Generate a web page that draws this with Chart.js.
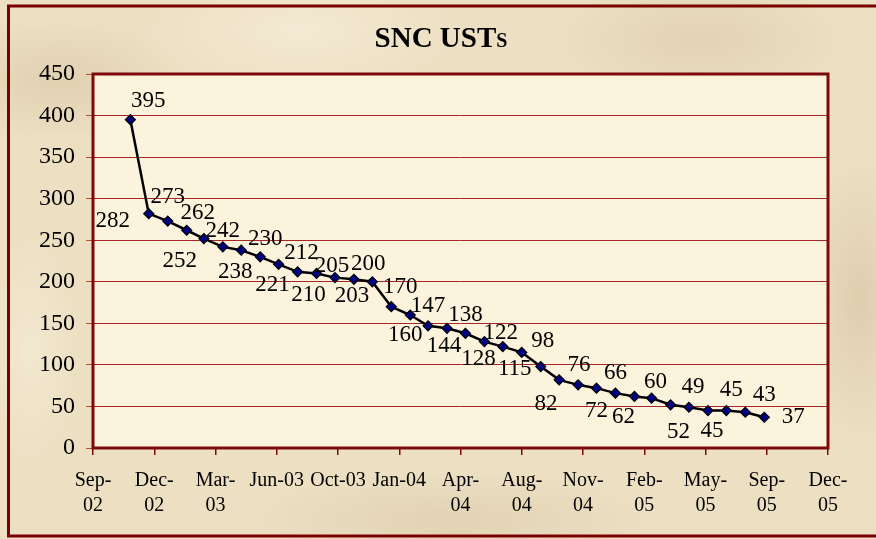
<!DOCTYPE html>
<html>
<head>
<meta charset="utf-8">
<script src="https://cdn.jsdelivr.net/npm/chart.js@4/dist/chart.umd.min.js"></script>
<style>
  html, body { margin: 0; padding: 0; }
  body {
    width: 876px; height: 539px; overflow: hidden;
    background-color: #ecdfc2;
    background-image:
      radial-gradient(ellipse 120px 60px at 60px 80px, rgba(210,190,155,0.45), transparent),
      radial-gradient(ellipse 160px 70px at 300px 30px, rgba(247,238,218,0.7), transparent),
      radial-gradient(ellipse 140px 60px at 700px 40px, rgba(212,194,160,0.45), transparent),
      radial-gradient(ellipse 200px 50px at 450px 520px, rgba(212,194,160,0.45), transparent),
      radial-gradient(ellipse 60px 140px at 860px 300px, rgba(205,185,150,0.45), transparent),
      radial-gradient(ellipse 50px 120px at 30px 350px, rgba(247,238,218,0.6), transparent);
  }
  #wrap { position: relative; width: 876px; height: 539px; }
</style>
</head>
<body>
<div id="wrap"><canvas id="ustChart" width="876" height="539"></canvas></div>
<script>
// Monthly counts of SNC USTs
const months = ['2002-11', '2002-12', '2003-01', '2003-02', '2003-03', '2003-04', '2003-05',
  '2003-06', '2003-07', '2003-08', '2003-09', '2003-10', '2003-11', '2003-12', '2004-01',
  '2004-02', '2004-03', '2004-04', '2004-05', '2004-06', '2004-07', '2004-08', '2004-09',
  '2004-10', '2004-11', '2004-12', '2005-01', '2005-02', '2005-03', '2005-04', '2005-05',
  '2005-06', '2005-07', '2005-08', '2005-09'];
const ustCounts = [395, 282, 273, 262, 252, 242, 238, 230, 221, 212, 210, 205, 203, 200, 170,
  160, 147, 144, 138, 128, 122, 115, 98, 82, 76, 72, 66, 62, 60, 52, 49, 45, 45, 43, 37];
// x axis ticks every 100 days starting 1 Sep 2002 (Excel style date axis)
const xTickLabels = [['Sep-', '02'], ['Dec-', '02'], ['Mar-', '03'], 'Jun-03', 'Oct-03', 'Jan-04',
  ['Apr-', '04'], ['Aug-', '04'], ['Nov-', '04'], ['Feb-', '05'], ['May-', '05'], ['Sep-', '05'], ['Dec-', '05']];

// where each value label sits relative to its point (px)
const labelOffsets = [[18, -19], [-36, 7], [0, -24], [11, -17], [-24, 22], [0, -16], [-6, 22],
  [5, -18], [-6, 21], [4, -19], [-8, 21], [-3, -12], [-2, 17], [-4, -18], [9, -20], [-5, 20],
  [0, -20], [-3, 18], [0, -18], [-6, 17], [-2, -14], [-7, 17], [2, -26], [-13, 24], [1, -20],
  [0, 23], [0, -20], [-11, 20], [4, -16], [8, 27], [4, -20], [4, 20], [5, -21], [19, -17], [29, 0]];

const SERIF = '"Liberation Serif", "Times New Roman", serif';
const DARKRED = '#7d0a0a';

const axisStart = Date.UTC(2002, 8, 1);
const points = months.map((m, i) => {
  const [y, mo] = m.split('-').map(Number);
  return { x: (Date.UTC(y, mo - 1, 1) - axisStart) / 86400000, y: ustCounts[i] };
});

// background, plot border, outer frame, title and value labels
const decorPlugin = {
  id: 'decor',
  beforeDraw(chart) {
    const { ctx, chartArea: a } = chart;
    ctx.save();
    ctx.fillStyle = '#fcf3dc';
    ctx.fillRect(a.left, a.top, a.right - a.left, a.bottom - a.top);
    // outer frame (right edge is cut off)
    ctx.strokeStyle = '#7a0000';
    ctx.lineWidth = 3;
    ctx.beginPath();
    ctx.moveTo(876, 6);
    ctx.lineTo(8.5, 6);
    ctx.lineTo(8.5, 536);
    ctx.lineTo(876, 536);
    ctx.stroke();
    // title "SNC USTs" with small-cap s
    ctx.fillStyle = '#000';
    ctx.textBaseline = 'alphabetic';
    const big = 'bold 29px ' + SERIF, small = 'bold 20px ' + SERIF;
    ctx.font = big;
    const w1 = ctx.measureText('SNC UST').width;
    ctx.font = small;
    const w2 = ctx.measureText('S').width;
    const x0 = 441 - (w1 + w2) / 2;
    ctx.font = big;
    ctx.fillText('SNC UST', x0, 47);
    ctx.font = small;
    ctx.fillText('S', x0 + w1, 47);
    ctx.restore();
  },
  afterDatasetsDraw(chart) {
    const { ctx, chartArea: a } = chart;
    ctx.save();
    ctx.strokeStyle = DARKRED;
    ctx.lineWidth = 3;
    ctx.strokeRect(a.left, a.top, a.right - a.left, a.bottom - a.top);
    const meta = chart.getDatasetMeta(0);
    ctx.font = '23px ' + SERIF;
    ctx.fillStyle = '#000';
    ctx.textAlign = 'center';
    ctx.textBaseline = 'middle';
    meta.data.forEach((pt, i) => {
      const [dx, dy] = labelOffsets[i];
      ctx.fillText(String(ustCounts[i]), pt.x + dx, pt.y + dy);
    });
    ctx.restore();
  }
};

new Chart(document.getElementById('ustChart'), {
  type: 'line',
  data: {
    datasets: [{
      label: 'SNC USTs',
      data: points,
      borderColor: '#000',
      borderWidth: 2.5,
      pointStyle: 'rectRot',
      pointRadius: 5,
      pointBackgroundColor: '#000080',
      pointBorderColor: '#000',
      pointBorderWidth: 1.2,
      tension: 0
    }]
  },
  options: {
    responsive: false,
    animation: false,
    layout: { padding: { left: 0, top: 74, right: 48, bottom: 0 } },
    plugins: { legend: { display: false }, tooltip: { enabled: false } },
    scales: {
      x: {
        type: 'linear',
        min: 0,
        max: 1200,
        afterBuildTicks(scale) {
          scale.ticks = xTickLabels.map((_, i) => ({ value: i * 100 }));
        },
        afterFit(scale) { scale.height = 91; },
        border: { display: false },
        grid: { drawOnChartArea: false, drawTicks: true, tickLength: 7, color: DARKRED, lineWidth: 1.5 },
        ticks: {
          autoSkip: false,
          maxRotation: 0,
          padding: 13,
          color: '#000',
          font: { family: SERIF, size: 20, lineHeight: 1.25 },
          callback: (v, i) => xTickLabels[i]
        }
      },
      y: {
        min: 0,
        max: 450,
        afterFit(scale) { scale.width = 93; },
        border: { display: false },
        grid: { color: '#a8262a', lineWidth: 1, drawTicks: true, tickLength: 7, tickColor: '#b5502a' },
        ticks: {
          stepSize: 50,
          padding: 11,
          color: '#000',
          font: { family: SERIF, size: 24 }
        }
      }
    }
  },
  plugins: [decorPlugin]
});
</script>
</body>
</html>
